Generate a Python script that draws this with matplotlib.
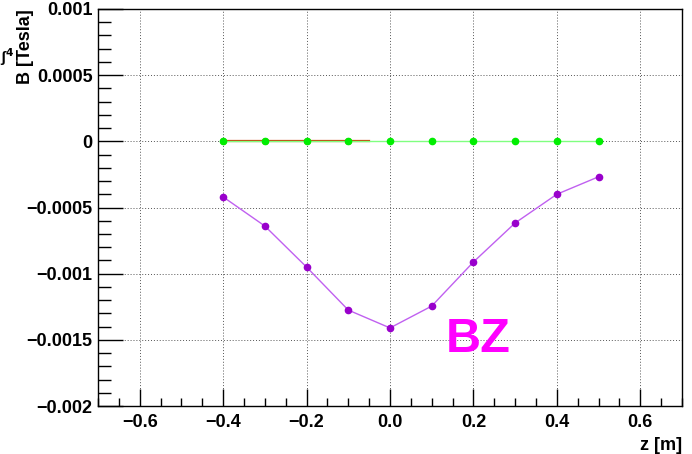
import numpy as np
import matplotlib.pyplot as plt
from matplotlib.ticker import MultipleLocator, FixedLocator, FixedFormatter

plt.rcParams['font.family'] = ['Liberation Sans', 'DejaVu Sans']
plt.rcParams['font.weight'] = 'bold'

# field along z
z_bz = [-0.4, -0.3, -0.2, -0.1, 0.0, 0.1, 0.2, 0.3, 0.4, 0.5]
bz = [-0.00042, -0.00064, -0.00095, -0.001275, -0.00141,
      -0.001245, -0.000912, -0.000617, -0.000400, -0.000268]

# transverse components (flat)
z_green = [-0.4, -0.3, -0.2, -0.1, 0.0, 0.1, 0.2, 0.3, 0.4, 0.5]
b_green = [0, 0, 0, 0, 0, 0, 0, 0, 0, 0]
z_red = [-0.4, -0.3, -0.2, -0.1, -0.05]
b_red = [0, 0, 0, 0, 0]

yticks = [0.001, 0.0005, 0.0, -0.0005, -0.001, -0.0015, -0.002]
ytick_labels = ['0.001', '0.0005', '0', '\u22120.0005', '\u22120.001',
                '\u22120.0015', '\u22120.002']

fig = plt.figure(figsize=(6.92, 4.54), dpi=100)
ax = fig.add_axes([0.1416, 0.1057, 0.8439, 0.8745])

ax.grid(True, which='major', color='#555555', linestyle=(0, (1, 2)), linewidth=0.7)

ax.plot(z_red, b_red, color='#cc3300', lw=1.6, marker='o', ms=4,
        markevery=[0, 1, 2, 3], zorder=3)
ax.plot(z_green, b_green, color='#80ff80', lw=1.0, marker='o', ms=4.5,
        mfc='#00ee00', mec='#00ee00', zorder=4)
ax.plot(z_bz, bz, color='#c060f0', lw=1.0, marker='o', ms=4.5,
        mfc='#9900cc', mec='#9900cc', zorder=4)

ax.text(0.134, -0.001592, 'BZ', color='#ff00ff', fontsize=35,
        fontweight='bold', ha='left', va='baseline')

ax.set_xlim(-0.7, 0.7)
ax.set_ylim(-0.002, 0.001)
ax.xaxis.set_major_locator(MultipleLocator(0.2))
ax.xaxis.set_minor_locator(MultipleLocator(0.05))
ax.yaxis.set_major_locator(FixedLocator(yticks))
ax.yaxis.set_major_formatter(FixedFormatter(ytick_labels))
ax.yaxis.set_minor_locator(MultipleLocator(0.0001))

ax.tick_params(axis='both', which='both', direction='in', labelsize=13,
               color='black', width=1)
ax.tick_params(axis='x', which='major', length=12, pad=6)
ax.tick_params(axis='x', which='minor', length=6)
ax.tick_params(axis='y', which='major', length=18, pad=4)
ax.tick_params(axis='y', which='minor', length=9)
for lbl in ax.get_xticklabels() + ax.get_yticklabels():
    lbl.set_fontweight('bold')
for s in ax.spines.values():
    s.set_linewidth(1.0)

ax.set_xlabel('z [m]', fontsize=13, fontweight='bold', loc='right', labelpad=4)
fig.text(0.037, 0.815, 'B [Tesla]', rotation=90, fontsize=13,
         fontweight='bold', ha='center', va='bottom')
fig.text(0.0, 0.875, '\u0283$^4$', fontsize=11, ha='left', va='center')

fig.savefig('out.png', dpi=100)
